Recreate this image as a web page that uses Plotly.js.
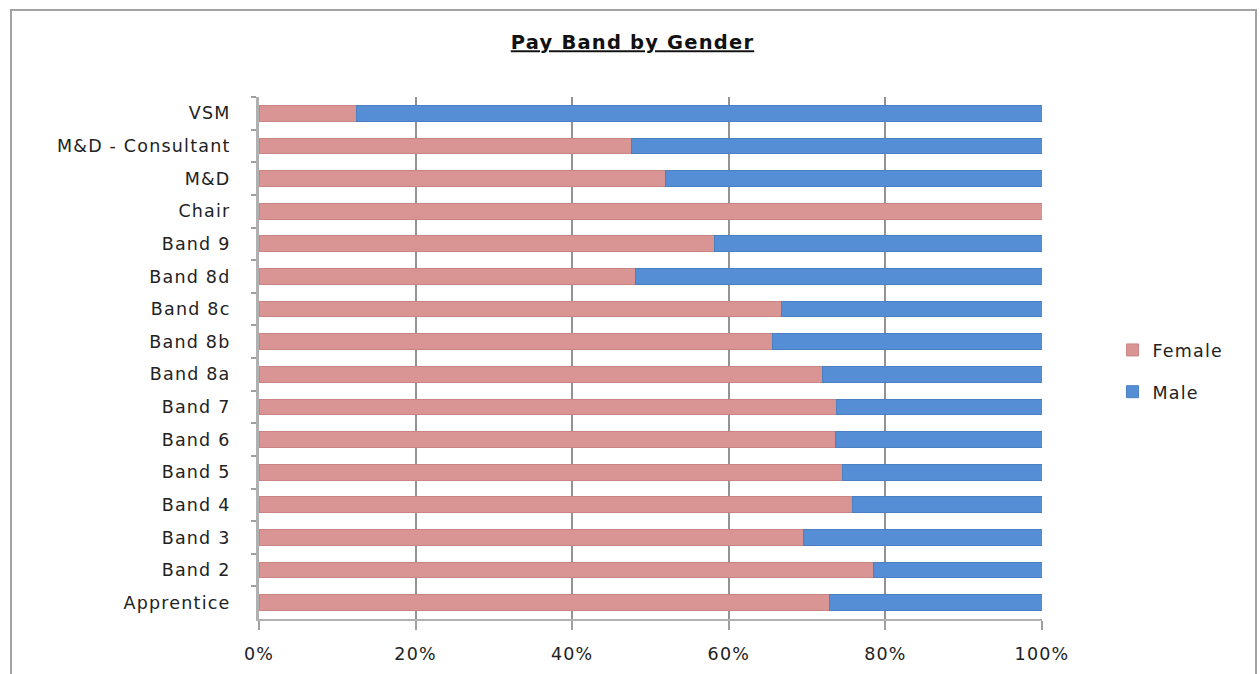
<!DOCTYPE html>
<html>
<head>
<meta charset="utf-8">
<script src="https://cdn.plot.ly/plotly-3.0.1.min.js"></script>
<style>
html, body { margin: 0; padding: 0; overflow: hidden; background: #fff; }
#wrap { position: relative; width: 1260px; height: 674px; }
#chart { width: 1260px; height: 674px; }
#frame { position: absolute; left: 10px; top: 9px; width: 1247px; height: 700px; border: 2px solid #a3a3a3; pointer-events: none; box-sizing: border-box; }
#chart .main-svg text { letter-spacing: 1.2px; }
</style>
</head>
<body>
<div id="wrap">
  <div id="chart"></div>
  <div id="frame"></div>
</div>
<script>
const bands = ["VSM", "M&D - Consultant", "M&D", "Chair", "Band 9", "Band 8d", "Band 8c", "Band 8b",
               "Band 8a", "Band 7", "Band 6", "Band 5", "Band 4", "Band 3", "Band 2", "Apprentice"];
const female = [0.125, 0.476, 0.519, 1.000, 0.582, 0.481, 0.667, 0.656,
                0.720, 0.738, 0.736, 0.745, 0.758, 0.695, 0.785, 0.729];
const male   = [0.875, 0.524, 0.481, 0.000, 0.418, 0.519, 0.333, 0.344,
                0.280, 0.262, 0.264, 0.255, 0.242, 0.305, 0.215, 0.271];
const xTickVals = [0, 0.2, 0.4, 0.6, 0.8, 1.0];
const xTickText = ["0%", "20%", "40%", "60%", "80%", "100%"];

const FONT = "DejaVu Sans, Open Sans, sans-serif";

const traces = [
  {
    type: "bar", orientation: "h", name: "Female", legendgroup: "f",
    y: bands, x: female,
    marker: { color: "#d99594", line: { color: "#c98584", width: 1 } },
    hoverinfo: "skip"
  },
  {
    type: "bar", orientation: "h", name: "Male", legendgroup: "m",
    y: bands, x: male,
    marker: { color: "#558ed5", line: { color: "#4a7fc2", width: 1 } },
    hoverinfo: "skip"
  }
];

const layout = {
  width: 1260, height: 674,
  paper_bgcolor: "#ffffff", plot_bgcolor: "#ffffff",
  margin: { l: 259, r: 218, t: 97, b: 55, pad: 0 },
  barmode: "stack",
  bargap: 0.52,
  font: { family: FONT, size: 17, color: "#222222" },
  title: {
    text: "<b>Pay Band by Gender</b>",
    font: { family: FONT, size: 19.5, color: "#111111", lineposition: "under" },
    x: 0.502, xref: "container", xanchor: "center",
    y: 0.937, yref: "container", yanchor: "middle"
  },
  xaxis: {
    range: [0, 1.0],
    tickvals: xTickVals, ticktext: xTickText,
    showgrid: true, gridcolor: "#939393", gridwidth: 2,
    zeroline: false,
    showline: true, linecolor: "#b0b0b0", linewidth: 2,
    ticks: "outside", ticklen: 9, tickcolor: "#a0a0a0", tickwidth: 2,
    ticklabelstandoff: 9,
    tickfont: { family: FONT, size: 17.5, color: "#222222" },
    fixedrange: true
  },
  yaxis: {
    type: "category",
    categoryorder: "array", categoryarray: bands,
    autorange: "reversed",
    showgrid: false, zeroline: false,
    showline: true, linecolor: "#b0b0b0", linewidth: 3,
    ticks: "outside", tickson: "boundaries", ticklen: 5, tickcolor: "#a0a0a0", tickwidth: 2,
    ticklabelstandoff: 22,
    tickfont: { family: FONT, size: 17.5, color: "#222222" },
    fixedrange: true
  },
  showlegend: true,
  legend: {
    x: 1.09, xanchor: "left", y: 0.475, yanchor: "middle",
    traceorder: "grouped", tracegroupgap: 16,
    font: { family: FONT, size: 17.5, color: "#222222" },
    bgcolor: "rgba(0,0,0,0)"
  }
};

Plotly.newPlot("chart", traces, layout, { displayModeBar: false, staticPlot: true });
</script>
</body>
</html>
